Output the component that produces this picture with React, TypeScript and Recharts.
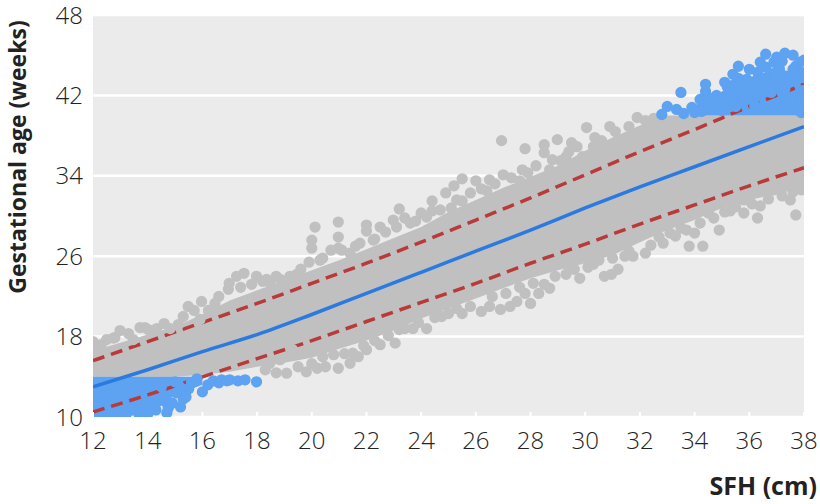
import {
  ComposedChart,
  Area,
  Scatter,
  Line,
  XAxis,
  YAxis,
  ZAxis,
  CartesianGrid
} from "recharts";

// SFH (cm) positions for the dense band of points
const sfh = [12, 13, 14, 15, 16, 17, 18, 19, 20, 21, 22, 23, 24, 25, 26, 27, 28, 29, 30, 31, 32, 33, 34, 35, 36, 37, 38];

// dense grey cloud, lower and upper edge (weeks)
const greyLow = [14.0, 14.0, 14.0, 14.0, 14.2, 14.5, 15.0, 15.4, 15.9, 16.8, 17.6, 18.6, 19.8, 20.8, 21.8, 22.8, 23.8, 24.6, 25.3, 26.1, 27.4, 28.6, 29.6, 30.8, 31.6, 32.2, 32.8];
const greyHigh = [16.6, 17.4, 18.2, 19.0, 20.2, 21.6, 22.6, 23.6, 24.6, 25.6, 26.7, 27.8, 28.9, 30.4, 31.6, 32.8, 33.9, 35.0, 36.5, 37.8, 39.0, 40.0, 40.0, 40.0, 40.0, 40.0, 40.0];

// dense blue clouds (GA < 14 and GA > 40)
const blueLowLo = [10.0, 10.0, 10.3, 12.2, 13.2, null, null, null, null, null, null, null, null, null, null, null, null, null, null, null, null, null, null, null, null, null, null];
const blueLowHi = [14.0, 14.0, 14.0, 14.0, 14.0, null, null, null, null, null, null, null, null, null, null, null, null, null, null, null, null, null, null, null, null, null, null];
const blueHighLo = [null, null, null, null, null, null, null, null, null, null, null, null, null, null, null, null, null, null, null, null, null, null, 40.0, 40.0, 40.0, 40.0, 40.0];
const blueHighHi = [null, null, null, null, null, null, null, null, null, null, null, null, null, null, null, null, null, null, null, null, null, null, 41.0, 42.4, 43.8, 44.6, 44.2];

// fitted curve and limits
const fitSfh = [12, 14, 16, 18, 20, 22, 24, 26, 28, 30, 32, 34, 36, 38];
const fitGa = [13.0, 14.7, 16.5, 18.2, 20.2, 22.3, 24.4, 26.5, 28.6, 30.8, 32.9, 34.9, 36.9, 38.9];
const upperGa = [15.6, 17.5, 19.4, 21.3, 23.3, 25.3, 27.4, 29.6, 31.8, 34.1, 36.4, 38.6, 40.9, 43.1];
const lowerGa = [10.5, 12.2, 14.0, 15.8, 17.6, 19.5, 21.4, 23.3, 25.3, 27.2, 29.2, 31.1, 33.0, 34.8];

// scattered points outside the dense cloud [sfh, ga]
const greyUpperFringe: [number, number][] = [
  [12.0, 17.5], [12.07, 16.9], [12.5, 17.7], [12.74, 17.85], [12.99, 18.6], [13.47, 17.7],
  [13.72, 18.9], [14.02, 18.7], [14.33, 18.8], [14.82, 18.8], [15.12, 19.2], [15.48, 21.0],
  [15.91, 19.7], [15.97, 21.5], [16.22, 20.6], [16.46, 21.3], [16.95, 22.7], [16.98, 23.3],
  [17.25, 24.0], [17.52, 24.3], [17.98, 24.0], [18.35, 23.7], [18.47, 23.3], [18.84, 23.7],
  [19.2, 24.0], [19.45, 24.2], [20.0, 27.6], [20.0, 26.8], [20.12, 28.9], [20.4, 25.8],
  [20.7, 26.6], [20.97, 29.4], [20.97, 27.9], [20.97, 26.8], [21.4, 26.3], [21.76, 27.3],
  [22.0, 29.1], [22.0, 28.5], [22.25, 27.6], [22.5, 28.9], [22.98, 29.6], [23.2, 30.7],
  [23.4, 29.8], [23.8, 29.5], [24.0, 30.3], [24.4, 30.5], [24.4, 31.5], [24.9, 32.3],
  [25.1, 30.8], [25.2, 33.0], [25.5, 33.7], [25.5, 31.5], [26.0, 33.5], [26.4, 32.5],
  [26.5, 33.6], [26.94, 37.5], [27.0, 34.1], [27.6, 33.5], [27.8, 36.7], [27.9, 34.3],
  [28.5, 36.3], [28.5, 37.1], [28.7, 34.6], [28.98, 37.6], [29.1, 35.5], [29.3, 35.9],
  [29.5, 37.3], [29.9, 35.9], [30.05, 38.8], [30.35, 37.8], [30.3, 36.9], [30.9, 38.9],
  [31.4, 36.6], [31.9, 39.8]
];
const greyUpperEdge: [number, number][] = [
  [12.3, 17.2], [12.8, 17.9], [13.3, 18.3], [13.9, 18.9], [14.6, 19.3], [15.3, 20.0],
  [15.7, 20.6], [16.6, 22.0], [17.4, 22.9], [17.8, 23.2], [18.2, 23.5], [18.7, 24.0],
  [19.6, 24.7], [19.9, 25.4], [20.3, 25.6], [21.1, 26.6], [21.6, 27.0], [22.3, 27.7],
  [22.7, 28.4], [23.1, 28.9], [23.6, 29.3], [24.2, 29.9], [24.7, 30.6], [25.3, 31.6],
  [25.8, 32.3], [26.2, 32.7], [26.7, 33.2], [27.3, 33.8], [27.7, 34.6], [28.2, 35.0],
  [28.8, 35.6], [29.4, 36.4], [29.7, 36.9], [30.6, 37.5], [31.1, 38.4], [31.6, 38.9],
  [32.2, 39.5], [32.5, 39.7]
];
const greyLowerFringe: [number, number][] = [
  [18.47, 15.35], [18.7, 14.4], [18.84, 15.7], [19.08, 14.36], [19.3, 16.7], [19.8, 14.5],
  [20.2, 14.85], [20.5, 15.0], [20.97, 14.85], [21.4, 15.35], [20.4, 16.0], [21.5, 16.35],
  [21.7, 16.0], [22.0, 16.7], [22.5, 17.2], [23.05, 17.35], [23.2, 18.7], [23.7, 18.8],
  [24.2, 18.8], [24.75, 20.0], [25.3, 20.8], [25.5, 20.3], [26.2, 20.5], [26.5, 21.0],
  [26.9, 20.7], [27.25, 21.0], [27.5, 21.5], [27.8, 22.3], [28.0, 21.3], [28.3, 22.3],
  [28.5, 23.2], [28.7, 22.8], [29.4, 25.0], [29.8, 23.8], [30.3, 25.2], [30.7, 24.0],
  [30.96, 24.2], [31.2, 24.7], [31.45, 26.0], [31.75, 26.0], [32.2, 26.3], [32.85, 27.3],
  [33.3, 28.0], [33.7, 28.6], [33.8, 27.0], [34.0, 28.3], [34.3, 27.0], [34.5, 30.3],
  [34.9, 28.6], [35.3, 30.5], [35.8, 30.3], [35.8, 31.6], [36.3, 29.8], [36.4, 31.0],
  [36.9, 32.6], [37.5, 31.6], [37.7, 30.1], [37.9, 32.6], [38.0, 34.0]
];
const greyLowerEdge: [number, number][] = [
  [18.3, 14.7], [19.5, 15.0], [20.0, 15.3], [20.8, 16.2], [21.2, 16.3], [21.9, 17.1],
  [22.3, 17.6], [22.8, 18.1], [23.4, 18.8], [23.9, 19.4], [24.5, 19.9], [25.0, 20.3],
  [25.8, 21.0], [26.6, 22.0], [27.1, 22.3], [27.6, 22.9], [28.1, 23.3], [28.9, 24.0],
  [29.3, 24.2], [29.6, 24.7], [30.1, 24.9], [30.5, 25.6], [31.0, 25.8], [31.6, 26.5],
  [32.4, 27.1], [32.7, 27.9], [33.1, 28.3], [33.5, 28.8], [34.2, 29.3], [34.7, 29.8],
  [35.1, 30.4], [35.5, 30.9], [36.1, 31.2], [36.7, 31.7], [37.2, 32.0], [37.6, 32.4]
];
const blueLowPoints: [number, number][] = [
  [12.4, 9.9], [13.2, 10.0], [14.0, 10.3], [14.3, 10.7], [14.7, 10.4], [14.7, 11.4],
  [14.75, 10.9], [14.9, 11.4], [15.06, 12.4], [15.3, 11.8], [15.4, 12.0], [15.5, 12.8],
  [15.6, 13.4], [15.8, 13.8], [16.0, 12.5], [16.2, 13.2], [16.4, 13.6], [16.6, 13.4],
  [16.7, 13.7], [16.9, 13.6], [17.0, 13.7], [17.3, 13.6], [17.56, 13.7], [17.98, 13.5],
  [14.5, 13.0], [15.0, 13.5], [15.2, 12.9], [15.2, 11.0], [14.4, 11.6], [13.7, 10.1]
];
const blueHighPoints: [number, number][] = [
  [32.8, 40.1], [33.0, 40.9], [33.34, 40.6], [33.5, 42.3], [33.9, 40.8], [34.2, 41.6],
  [34.4, 43.1], [34.4, 42.4], [34.25, 40.4], [34.7, 41.3], [34.9, 40.6], [35.0, 40.5],
  [35.2, 42.8], [35.3, 41.9], [35.4, 44.1], [35.6, 44.9], [35.7, 42.1], [35.9, 43.6],
  [36.1, 42.9], [36.3, 44.3], [36.6, 44.8], [36.6, 46.1], [36.9, 45.3], [37.0, 45.8],
  [37.2, 45.4], [37.4, 43.9], [37.6, 46.0], [37.85, 45.3], [37.9, 44.3], [37.9, 41.6],
  [37.9, 40.3], [34.6, 40.9], [35.0, 41.2], [35.5, 40.9], [35.8, 41.5], [36.2, 41.0],
  [36.5, 43.6], [36.8, 42.3], [37.1, 44.6], [37.3, 42.6], [37.7, 44.9], [38.0, 42.5],
  [34.0, 40.3], [33.6, 40.2], [34.8, 42.0], [35.1, 43.3], [35.4, 43.0], [36.0, 44.6],
  [36.4, 45.3], [36.9, 44.2], [37.3, 46.2], [37.6, 44.6], [38.0, 45.5], [38.0, 43.8],
  [35.6, 43.7], [34.5, 41.8]
];

const xTicks = [12, 14, 16, 18, 20, 22, 24, 26, 28, 30, 32, 34, 36, 38];
const yTickValues = [10, 18, 26, 34, 42, 50];
const yTickLabels = ["10", "18", "26", "34", "42", "48"];

const band = (lo: (number | null)[], hi: (number | null)[], i: number) =>
  lo[i] == null || hi[i] == null ? null : [lo[i], hi[i]];

const tableData = sfh.map((x, i) => ({
  sfh: x,
  grey: band(greyLow, greyHigh, i),
  blueLow: band(blueLowLo, blueLowHi, i),
  blueHigh: band(blueHighLo, blueHighHi, i)
}));

const fitData = fitSfh.map((x, i) => ({
  sfh: x,
  fit: fitGa[i],
  upper: upperGa[i],
  lower: lowerGa[i]
}));

const toPoints = (pts: [number, number][]) => pts.map(([x, y]) => ({ sfh: x, ga: y }));

const GREY = "#c0c0c0";
const BLUE_DOT = "#5ea2f2";
const BLUE_LINE = "#2a7ae0";
const RED = "#b83a3a";

const tickStyle = {
  fontSize: 24,
  fontFamily: "'Open Sans', sans-serif",
  fontWeight: 300,
  fill: "#222"
};

export default function App() {
  return (
    <div style={{ position: "absolute", left: 0, top: 0, width: 820, height: 504, background: "#fff" }}>
      <ComposedChart
        width={820}
        height={504}
        data={tableData}
        margin={{ top: 15, right: 16, left: 0, bottom: 47 }}
      >
        <CartesianGrid
          vertical={false}
          fill="#ebebeb"
          stroke="#ffffff"
          strokeWidth={2.5}
        />
        <XAxis
          dataKey="sfh"
          type="number"
          domain={[12, 38]}
          ticks={xTicks}
          allowDataOverflow
          axisLine={false}
          tickSize={-5}
          tickLine={{ stroke: "#ffffff", strokeWidth: 2 }}
          tickMargin={20}
          height={40}
          tick={tickStyle}
          interval={0}
        />
        <YAxis
          type="number"
          domain={[10, 50]}
          ticks={yTickValues}
          allowDataOverflow
          axisLine={false}
          tickLine={false}
          tickSize={0}
          tickMargin={10}
          width={93}
          tick={tickStyle}
          interval={0}
          tickFormatter={(v: number) => yTickLabels[yTickValues.indexOf(v)] ?? String(v)}
        />
        <ZAxis range={[100, 100]} />
        <Area
          type="linear"
          dataKey="grey"
          fill={GREY}
          fillOpacity={1}
          stroke="none"
          isAnimationActive={false}
          activeDot={false}
        />
        <Scatter data={toPoints(greyUpperEdge)} dataKey="ga" fill={GREY} isAnimationActive={false} />
        <Scatter data={toPoints(greyLowerEdge)} dataKey="ga" fill={GREY} isAnimationActive={false} />
        <Scatter data={toPoints(greyUpperFringe)} dataKey="ga" fill={GREY} isAnimationActive={false} />
        <Scatter data={toPoints(greyLowerFringe)} dataKey="ga" fill={GREY} isAnimationActive={false} />
        <Area
          type="linear"
          dataKey="blueLow"
          fill={BLUE_DOT}
          fillOpacity={1}
          stroke="none"
          isAnimationActive={false}
          activeDot={false}
        />
        <Area
          type="linear"
          dataKey="blueHigh"
          fill={BLUE_DOT}
          fillOpacity={1}
          stroke="none"
          isAnimationActive={false}
          activeDot={false}
        />
        <Scatter data={toPoints(blueLowPoints)} dataKey="ga" fill={BLUE_DOT} isAnimationActive={false} />
        <Scatter data={toPoints(blueHighPoints)} dataKey="ga" fill={BLUE_DOT} isAnimationActive={false} />
        <Line
          data={fitData}
          type="monotone"
          dataKey="fit"
          stroke={BLUE_LINE}
          strokeWidth={3.5}
          dot={false}
          activeDot={false}
          isAnimationActive={false}
        />
        <Line
          data={fitData}
          type="monotone"
          dataKey="upper"
          stroke={RED}
          strokeWidth={3.5}
          strokeDasharray="12 7"
          dot={false}
          activeDot={false}
          isAnimationActive={false}
        />
        <Line
          data={fitData}
          type="monotone"
          dataKey="lower"
          stroke={RED}
          strokeWidth={3.5}
          strokeDasharray="12 7"
          dot={false}
          activeDot={false}
          isAnimationActive={false}
        />
      </ComposedChart>
      <svg
        width={820}
        height={504}
        style={{ position: "absolute", left: 0, top: 0, pointerEvents: "none" }}
      >
        <text
          transform="translate(26,157) rotate(-90)"
          textAnchor="middle"
          fontFamily="'Open Sans', sans-serif"
          fontWeight={700}
          fontSize={23}
          fill="#222"
        >
          Gestational age (weeks)
        </text>
        <text
          x={817}
          y={495}
          textAnchor="end"
          fontFamily="'Open Sans', sans-serif"
          fontWeight={700}
          fontSize={25}
          fill="#222"
        >
          SFH (cm)
        </text>
      </svg>
    </div>
  );
}
